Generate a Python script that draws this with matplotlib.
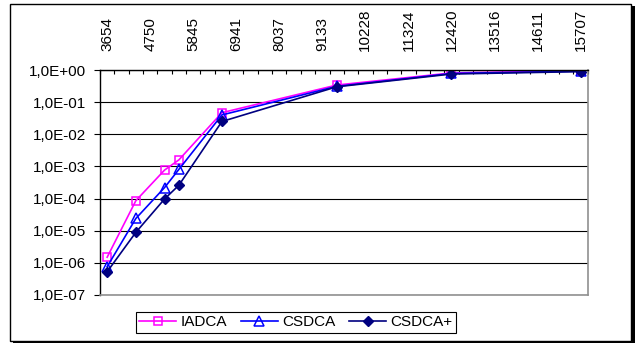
import matplotlib
matplotlib.use("Agg")
import matplotlib.pyplot as plt
from matplotlib.patches import Rectangle
from matplotlib.ticker import FixedLocator, FuncFormatter
import numpy as np

plt.rcParams["font.family"] = ["Liberation Sans", "DejaVu Sans"]

# category labels shown on the top axis (every third category)
x_labels = [3654, 4750, 5845, 6941, 8037, 9133, 10228, 11324, 12420, 13516, 14611, 15707]
n_categories = 34

# measured points (category values)
x_vals = [3654, 4384, 5115, 5480, 6576, 9498, 12420, 15707]
iadca = [1.5e-6, 8.6e-5, 7.7e-4, 1.6e-3, 4.7e-2, 0.34, 0.81, 0.95]
csdca = [7.6e-7, 2.4e-5, 2.2e-4, 8.1e-4, 4.0e-2, 0.31, 0.78, 0.92]
csdca_plus = [5.3e-7, 8.9e-6, 9.7e-5, 2.6e-4, 2.5e-2, 0.30, 0.75, 0.89]

fig = plt.figure(figsize=(6.35, 3.43), dpi=100)

# chart area frame with shadow
W, H = 635.0, 343.0
fig.patches.append(Rectangle((13 / W, 0), 622 / W, 337 / H, transform=fig.transFigure,
                             facecolor="black", edgecolor="none", zorder=0))
fig.patches.append(Rectangle((9.5 / W, 2.5 / H), 621 / W, 337 / H, transform=fig.transFigure,
                             facecolor="white", edgecolor="black", linewidth=1.0, zorder=1))

ax = fig.add_axes([100 / W, 1 - 295 / H, 487.7 / W, 225 / H])
ax.set_zorder(2)

ax.plot(x_vals, iadca, color="#FF00FF", marker="s", markersize=6, markerfacecolor="none",
        markeredgewidth=1.1, linewidth=1.2, label="IADCA")
ax.plot(x_vals, csdca, color="#0000FF", marker="^", markersize=6.5, markerfacecolor="none",
        markeredgewidth=1.1, linewidth=1.2, label="CSDCA")
ax.plot(x_vals, csdca_plus, color="#000080", marker="D", markersize=5.5,
        linewidth=1.2, label="CSDCA+")

ax.set_yscale("log")
ax.set_ylim(1e-7, 1)
ax.yaxis.set_major_locator(FixedLocator([10.0 ** k for k in range(-7, 1)]))
ax.yaxis.set_minor_locator(FixedLocator([]))
ax.yaxis.set_major_formatter(FuncFormatter(lambda v, p: "1,0E%+03d" % int(round(np.log10(v)))))
ax.grid(axis="y", color="black", linewidth=0.8)
ax.set_axisbelow(True)

step = (x_labels[-1] - x_labels[0]) / (n_categories - 1)
ax.set_xlim(x_labels[0] - step / 2, x_labels[-1] + step / 2)
ax.xaxis.tick_top()
ax.set_xticks(x_labels)
ax.set_xticklabels([str(v) for v in x_labels], rotation=90)
ax.set_xticks(x_labels[0] - step / 2 + step * np.arange(n_categories + 1), minor=True)
ax.tick_params(axis="x", which="major", length=0, pad=14, labelsize=11)
ax.tick_params(axis="x", which="minor", direction="in", length=3, width=0.8, top=True, bottom=False)
ax.tick_params(axis="y", which="major", direction="out", length=4, width=0.8, pad=6, labelsize=11)

for side in ("top", "left"):
    ax.spines[side].set_color("black")
    ax.spines[side].set_linewidth(1.0)
for side in ("right", "bottom"):
    ax.spines[side].set_color("#909090")
    ax.spines[side].set_linewidth(1.2)

leg = fig.legend(loc="center", bbox_to_anchor=(296 / W, 1 - 322.5 / H), ncol=3, fontsize=11,
                 frameon=True, fancybox=False, edgecolor="black", framealpha=1,
                 handlelength=2.4, handletextpad=0.3, columnspacing=0.9, borderpad=0.25)
leg.get_frame().set_linewidth(0.8)
leg.set_zorder(3)

fig.savefig("out.png", dpi=100)
